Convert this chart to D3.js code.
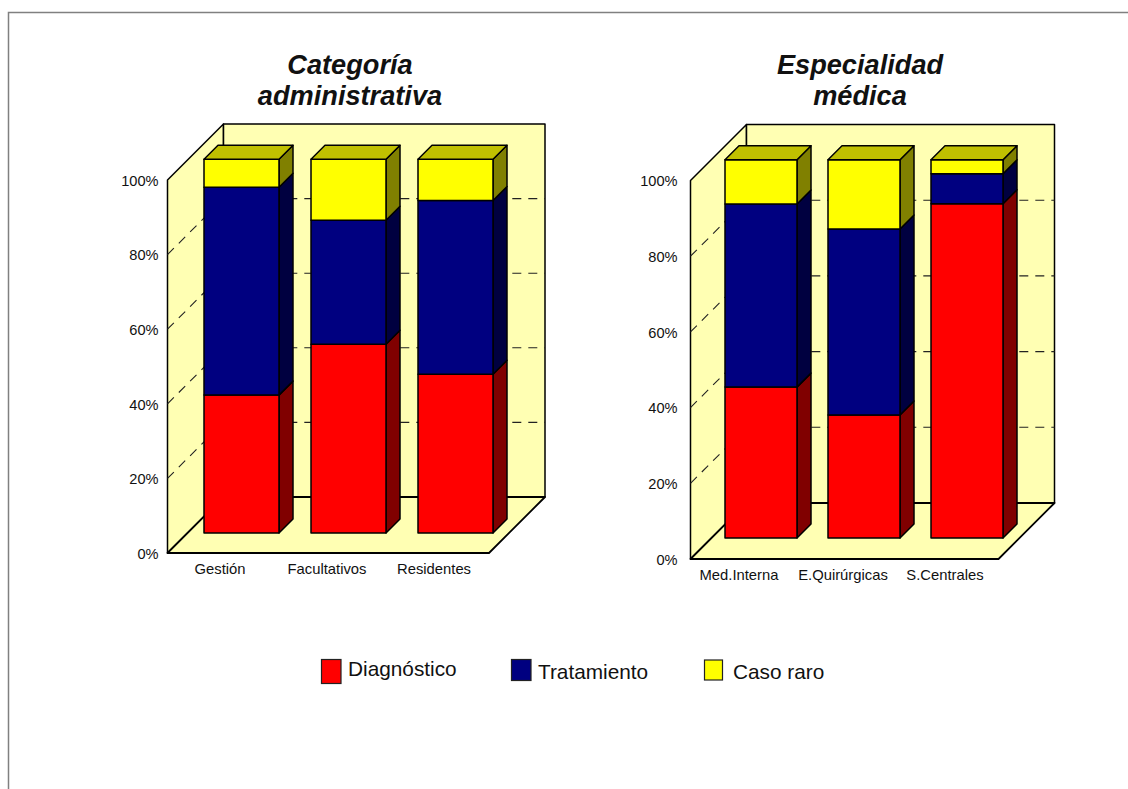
<!DOCTYPE html>
<html lang="es">
<head>
<meta charset="utf-8">
<script src="https://cdn.jsdelivr.net/npm/d3@7/dist/d3.min.js"></script>
<style>
  html, body { margin: 0; padding: 0; background: #fff; }
  svg { display: block; }
  text { font-family: "Liberation Sans", Arial, sans-serif; fill: #111; }
</style>
</head>
<body>
<svg id="chart" width="1128" height="789"></svg>
<script>
// Percentage share of each answer by group
const seriesNames = ["Diagnóstico", "Tratamiento", "Caso raro"];
const seriesFill = ["#ff0000", "#000080", "#ffff00"];
const seriesSide = ["#800000", "#000040", "#808000"];
const seriesTop = ["#c00000", "#000060", "#c0c000"];

const adminCategories = ["Gestión", "Facultativos", "Residentes"];
const adminDiagnostico = [36.9, 50.5, 42.5];
const adminTratamiento = [55.6, 33.2, 46.5];
const adminCasoRaro = [7.5, 16.3, 11.0];

const medCategories = ["Med.Interna", "E.Quirúrgicas", "S.Centrales"];
const medDiagnostico = [39.9, 32.5, 88.4];
const medTratamiento = [48.4, 49.2, 7.9];
const medCasoRaro = [11.7, 18.3, 3.7];

const yTicks = [0, 20, 40, 60, 80, 100];

const WALL = "#ffffb3";
const svg = d3.select("#chart");

// Page frame: only the top and left edges are ruled
svg.append("path")
  .attr("d", "M8.5,789V12.5H1128")
  .attr("fill", "none").attr("stroke", "#808080").attr("stroke-width", 1.5);

function poly(g, pts, fill, sw) {
  g.append("path")
    .attr("d", d3.line()(pts) + "Z")
    .attr("fill", fill)
    .attr("stroke", "#000")
    .attr("stroke-width", sw === undefined ? 1.5 : sw)
    .attr("stroke-linejoin", "round");
}

function drawPanel(cfg) {
  const g = svg.append("g");
  const { left, right, bottom, top, depth, barInset, barDepth, barRange, barTop } = cfg;

  // Wall scale on the front plane, bar scale inset towards the back wall
  const y = d3.scaleLinear().domain([0, 100]).range([bottom, top]);
  const by = d3.scaleLinear().domain([0, 100]).range([bottom - barInset, barTop]);
  const x = d3.scaleBand().domain(cfg.categories).range(barRange).paddingInner(cfg.pad).paddingOuter(cfg.pad / 2);

  // Side wall, back wall and floor
  poly(g, [[left, y(0)], [left, y(100)], [left + depth, y(100) - depth], [left + depth, y(0) - depth]], WALL);
  poly(g, [[left + depth, y(100) - depth], [right + depth, y(100) - depth], [right + depth, y(0) - depth], [left + depth, y(0) - depth]], WALL);
  poly(g, [[left, y(0)], [right, y(0)], [right + depth, y(0) - depth], [left + depth, y(0) - depth]], WALL, 1.8);

  // Dashed gridlines running along the side wall and across the back wall
  yTicks.filter(t => t > 0 && t < 100).forEach(t => {
    g.append("path")
      .attr("d", d3.line()([[left, y(t)], [left + depth, y(t) - depth], [right + depth, y(t) - depth]]))
      .attr("fill", "none").attr("stroke", "#222").attr("stroke-width", 1.1)
      .attr("stroke-dasharray", "9 7");
  });

  // Stacked bars
  const rows = cfg.categories.map((c, i) => ({ cat: c, a: cfg.a[i], b: cfg.b[i], c: cfg.c[i] }));
  const stacked = d3.stack().keys(["a", "b", "c"])(rows);
  rows.forEach((row, i) => {
    const x0 = x(row.cat), x1 = x0 + x.bandwidth();
    stacked.forEach((layer, s) => {
      const [v0, v1] = layer[i];
      poly(g, [[x1, by(v0)], [x1 + barDepth, by(v0) - barDepth], [x1 + barDepth, by(v1) - barDepth], [x1, by(v1)]], seriesSide[s]);
    });
    stacked.forEach((layer, s) => {
      const [v0, v1] = layer[i];
      poly(g, [[x0, by(v0)], [x1, by(v0)], [x1, by(v1)], [x0, by(v1)]], seriesFill[s]);
    });
    const t = by(100);
    poly(g, [[x0, t], [x1, t], [x1 + barDepth, t - barDepth], [x0 + barDepth, t - barDepth]], seriesTop[2]);
  });

  // Value axis labels
  const axis = d3.axisLeft(y).tickValues(yTicks).tickSize(0).tickPadding(cfg.tickPad).tickFormat(d => d + "%");
  const ag = g.append("g").attr("transform", `translate(${left},0.7)`).call(axis);
  ag.select(".domain").remove();
  ag.selectAll("text").style("font-family", '"Liberation Sans", Arial, sans-serif').style("font-size", "14.6px").attr("fill", "#111");

  // Category labels
  g.selectAll(".cat").data(cfg.categories).join("text")
    .attr("class", "cat")
    .attr("x", (d, i) => cfg.catX[i])
    .attr("y", cfg.catY)
    .attr("text-anchor", "middle")
    .style("font-size", "14.8px")
    .text(d => d);

  // Two-line title
  cfg.title.forEach((line, i) => {
    g.append("text")
      .attr("x", cfg.titleX)
      .attr("y", cfg.titleY + i * 31)
      .attr("text-anchor", "middle")
      .style("font-size", "27.2px").style("font-weight", "bold").style("font-style", "italic")
      .text(line);
  });
}

drawPanel({
  categories: adminCategories, a: adminDiagnostico, b: adminTratamiento, c: adminCasoRaro,
  left: 167.5, right: 489, bottom: 553, top: 180, depth: 56, barTop: 159.3,
  barInset: 20, barDepth: 14, barRange: [188, 509], pad: 32 / 107, tickPad: 9,
  catX: [220, 327, 434], catY: 574,
  title: ["Categoría", "administrativa"], titleX: 350, titleY: 74
});

drawPanel({
  categories: medCategories, a: medDiagnostico, b: medTratamiento, c: medCasoRaro,
  left: 690.5, right: 998.5, bottom: 559, top: 180.5, depth: 56, barTop: 159.8,
  barInset: 21, barDepth: 14, barRange: [709.5, 1018.5], pad: 31 / 103, tickPad: 13,
  catX: [739, 843, 945], catY: 580,
  title: ["Especialidad", "médica"], titleX: 860, titleY: 74
});

// Legend
const legendSwatch = [[321.5, 659.5, 19.5, 24], [511.5, 659.5, 19.5, 21], [704.5, 660, 18, 20]];
const legendText = [[348, 676], [538, 679], [733, 679]];
const legend = svg.append("g");
seriesNames.forEach((name, i) => {
  const [sx, sy, sw, sh] = legendSwatch[i];
  legend.append("rect").attr("x", sx).attr("y", sy).attr("width", sw).attr("height", sh)
    .attr("fill", seriesFill[i]).attr("stroke", "#222").attr("stroke-width", 1.2);
  legend.append("text").attr("x", legendText[i][0]).attr("y", legendText[i][1])
    .style("font-size", "20.8px").text(name);
});
</script>
</body>
</html>
